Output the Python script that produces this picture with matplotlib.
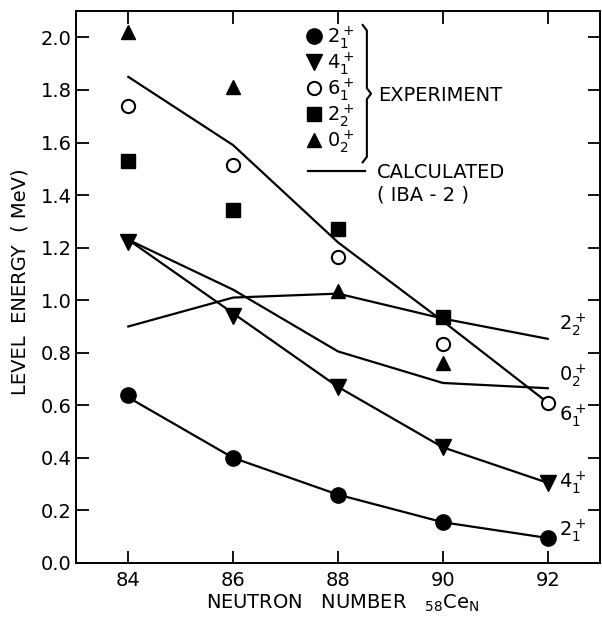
import numpy as np
import matplotlib.pyplot as plt
from matplotlib.lines import Line2D

plt.rcParams['font.family'] = ['DejaVu Sans']
plt.rcParams['mathtext.fontset'] = 'dejavusans'

# Neutron numbers
N = [84, 86, 88, 90, 92]
N_short = [84, 86, 88, 90]

# Experiment (MeV)
exp_2_1 = [0.64, 0.40, 0.26, 0.155, 0.095]
exp_4_1 = [1.22, 0.94, 0.67, 0.44, 0.305]
exp_6_1 = [1.74, 1.515, 1.165, 0.835, 0.61]
exp_2_2 = [1.53, 1.345, 1.27, 0.935]
exp_0_2 = [2.02, 1.81, 1.035, 0.76]

# Calculated IBA-2 (MeV)
calc_2_1 = [0.63, 0.40, 0.26, 0.155, 0.095]
calc_4_1 = [1.23, 0.95, 0.67, 0.44, 0.305]
calc_6_1 = [1.85, 1.59, 1.22, 0.92, 0.61]
calc_2_2 = [0.90, 1.01, 1.025, 0.93, 0.853]
calc_0_2 = [1.23, 1.04, 0.805, 0.685, 0.665]

state_labels = [r'$2_1^+$', r'$4_1^+$', r'$6_1^+$', r'$2_2^+$', r'$0_2^+$']

fig = plt.figure(figsize=(6.02, 6.20), dpi=100)
ax = fig.add_axes([0.126, 0.092, 0.871, 0.890])

lw = 1.6
for c in [calc_2_1, calc_4_1, calc_6_1, calc_2_2, calc_0_2]:
    ax.plot(N, c, color='black', lw=lw, zorder=2)

h1, = ax.plot(N, exp_2_1, 'o', color='black', ms=11, ls='none', zorder=3)
h2, = ax.plot(N, exp_4_1, 'v', color='black', ms=11, ls='none', zorder=3)
h3, = ax.plot(N, exp_6_1, 'o', mfc='white', mec='black', mew=1.5, ms=9.5,
              ls='none', zorder=3)
h4, = ax.plot(N_short, exp_2_2, 's', color='black', ms=9.5, ls='none', zorder=3)
h5, = ax.plot(N_short, exp_0_2, '^', color='black', ms=10, ls='none', zorder=3)

leg = ax.legend([h1, h2, h3, h4, h5], state_labels, loc='upper left',
                bbox_to_anchor=(0.431, 0.984), frameon=False, fontsize=14,
                handlelength=0.8, handletextpad=0.3, labelspacing=-0.04,
                borderpad=0.2, borderaxespad=0)
ax.add_artist(leg)

calc_handle = Line2D([], [], color='black', lw=lw)
leg2 = ax.legend([calc_handle], ['CALCULATED'], loc='center left',
                 bbox_to_anchor=(0.443, 0.708), frameon=False, fontsize=14,
                 handlelength=2.95, handletextpad=0.6, borderpad=0,
                 borderaxespad=0)
ax.text(0.574, 0.667, '( IBA - 2 )', transform=ax.transAxes, fontsize=14,
        va='center', ha='left')

# brace for experiment group
bx, by0, by1 = 0.553, 0.726, 0.975
ym = (by0 + by1) / 2
bxs = [bx - 0.006, bx + 0.002, bx + 0.002, bx + 0.010, bx + 0.002, bx + 0.002, bx - 0.006]
bys = [by1, by1 - 0.01, ym + 0.01, ym, ym - 0.01, by0 + 0.01, by0]
ax.plot(bxs, bys, color='black', lw=1.5, transform=ax.transAxes, clip_on=False)
ax.text(0.576, ym - 0.004, 'EXPERIMENT', transform=ax.transAxes, fontsize=14,
        va='center', ha='left')

# right-hand state labels
label_offsets = [(8, 5), (8, 0), (8, -9), (8, 10), (8, 9)]
for c, lab, off in zip([calc_2_1, calc_4_1, calc_6_1, calc_2_2, calc_0_2],
                       state_labels, label_offsets):
    ax.annotate(lab, xy=(N[-1], c[-1]), xytext=off, textcoords='offset points',
                fontsize=14, va='center', ha='left')

ax.set_xlim(83, 93)
ax.set_ylim(0, 2.1)
ax.set_xticks(N)
ax.set_yticks(np.arange(0, 2.01, 0.2))
ax.set_yticklabels([f'{v:.1f}' for v in np.arange(0, 2.01, 0.2)])
ax.tick_params(direction='in', length=9, width=1.3, top=True, right=True,
               labelsize=14)
ax.tick_params(axis='x', pad=6)
ax.tick_params(axis='y', pad=3)
for s in ax.spines.values():
    s.set_linewidth(1.4)

ax.set_xlabel('NEUTRON   NUMBER   ' + r'$_{58}\mathrm{Ce}_{\mathrm{N}}$',
              fontsize=14, va='center')
ax.xaxis.set_label_coords(0.508, -0.073)
ax.set_ylabel('LEVEL  ENERGY  ( MeV)', fontsize=14, va='center')
ax.yaxis.set_label_coords(-0.107, 0.509)

plt.savefig('out.png', dpi=100)
